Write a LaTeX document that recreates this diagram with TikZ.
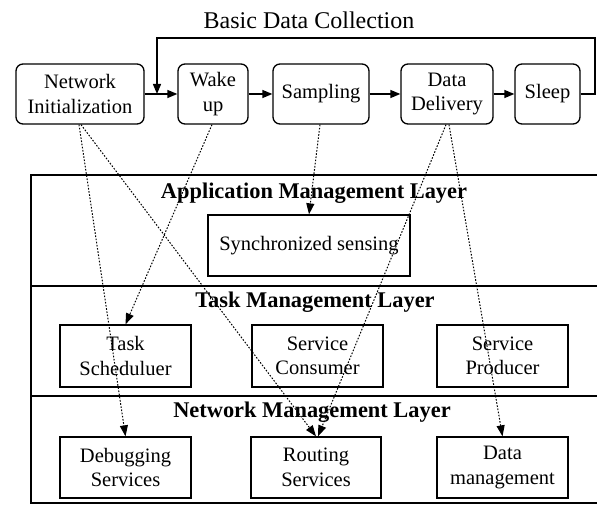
\documentclass[tikz,border=0pt]{standalone}
\usepackage{fontspec}
\setmainfont{Liberation Serif}
\usetikzlibrary{arrows.meta}
\begin{document}
\begin{tikzpicture}[x=1pt,y=-1pt,
  every node/.style={font=\fontsize{20.5}{24.5}\selectfont, align=center, inner sep=0pt},
  rbox/.style={draw, line width=1.3pt, rounded corners=7pt, minimum height=60pt},
  sbox/.style={draw, line width=1.3pt, minimum width=131pt, minimum height=61pt},
  flow/.style={line width=1.3pt, -{Triangle[length=10pt,width=8pt]}},
  dot/.style={line width=1pt, dash pattern=on 1.6pt off 1.6pt, -{Triangle[length=11pt,width=8pt]}},
  ltitle/.style={font=\fontsize{22.4}{25}\selectfont\bfseries}]
\useasboundingbox (0,0) rectangle (597,505);
% title
\node (title) at (309,20) {\fontsize{24}{26}\selectfont Basic Data Collection};
% top row
\node[rbox, minimum width=128pt] (ni) at (80,94) {Network\\Initialization};
\node[rbox, minimum width=70pt] (wu) at (213,94) {Wake\\up};
\node[rbox, minimum width=96pt] (sa) at (321,94) {Sampling};
\node[rbox, minimum width=92pt] (dd) at (447,94) {Data\\Delivery};
\node[rbox, minimum width=65pt] (sl) at (547.5,94) {Sleep};
\coordinate (fbR) at (595,94);
\coordinate (fbTR) at (595,38);
\coordinate (fbTL) at (157,38);
\coordinate (fbJ) at (157,94);
\draw[flow] (ni) -- (wu);
\draw[flow] (wu) -- (sa);
\draw[flow] (sa) -- (dd);
\draw[flow] (dd) -- (sl);
\draw[flow] (sl.east) -- (fbR) -- (fbTR) -- (fbTL) -- (fbJ);
% layers
\draw[line width=1.3pt] (600,175) -- (31,175) -- (31,503) -- (600,503);
\draw[line width=1.3pt] (31,286) -- (600,286);
\draw[line width=1.3pt] (31,396) -- (600,396);
\node[ltitle] (lapp) at (314,193) {Application Management Layer};
\node[ltitle] (ltask) at (315,302) {Task Management Layer};
\node[ltitle] (lnet) at (312,412) {Network Management Layer};
% boxes
\node[sbox, minimum width=202pt] (ss) at (309,245.5) {Synchronized sensing};
\node[sbox, minimum height=62pt] (ts) at (125.5,356) {Task\\Scheduluer};
\node[sbox, minimum height=62pt] (sc) at (317.5,356) {Service\\Consumer};
\node[sbox, minimum height=62pt] (sp) at (502.5,356) {Service\\Producer};
\node[sbox] (ds) at (125.5,467.5) {Debugging\\Services};
\node[sbox, minimum width=130pt] (rs) at (316,467.5) {Routing\\Services};
\node[sbox] (dm) at (502.5,467.5) {Data\\management};
% dotted connectors
\draw[dot] ([xshift=-1pt]ni.south) -- (ds.north);
\draw[dot] ([xshift=1pt]ni.south) -- (rs.north);
\draw[dot] ([xshift=-1pt]wu.south) -- (ts.north);
\draw[dot] ([xshift=-1pt]sa.south) -- (ss.north);
\draw[dot] ([xshift=-1pt]dd.south) -- ([xshift=2pt]rs.north);
\draw[dot] ([xshift=2pt]dd.south) -- (dm.north);
\end{tikzpicture}
\end{document}
